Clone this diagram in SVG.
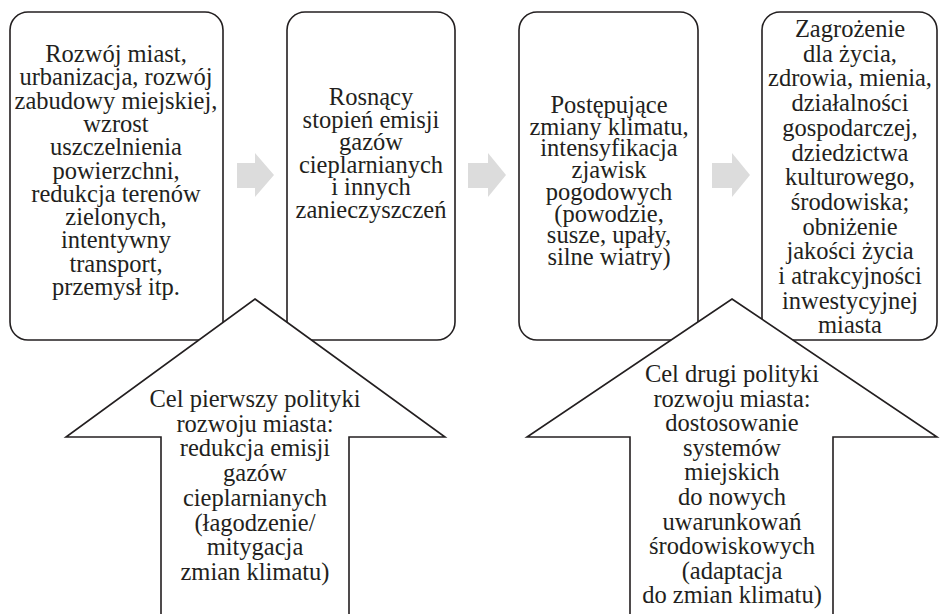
<svg xmlns="http://www.w3.org/2000/svg" width="940" height="614" viewBox="0 0 940 614">
<style>
.box{fill:#fff;stroke:#231f20;stroke-width:1.6}
.up{fill:#fff;stroke:#231f20;stroke-width:1.6;stroke-linejoin:miter}
.conn{fill:#dcdcdc;stroke:none}
text{font-family:"Liberation Serif","Times New Roman",serif;font-size:24.5px;fill:#231f20;text-anchor:middle}
</style>
<rect width="940" height="614" fill="#fff"/>
<g id="box1">
<rect class="box" x="10" y="12" width="213" height="328" rx="18"/>
<text x="116" y="62">Rozwój miast,</text>
<text x="116" y="85.3">urbanizacja, rozwój</text>
<text x="116" y="108.6">zabudowy miejskiej,</text>
<text x="116" y="131.9">wzrost</text>
<text x="116" y="155.2">uszczelnienia</text>
<text x="116" y="178.5">powierzchni,</text>
<text x="116" y="201.8">redukcja terenów</text>
<text x="116" y="225.1">zielonych,</text>
<text x="116" y="248.4">intentywny</text>
<text x="116" y="271.7">transport,</text>
<text x="116" y="295">przemysł itp.</text>
</g>
<g id="box2">
<rect class="box" x="287" y="12" width="168" height="328" rx="18"/>
<text x="371" y="105">Rosnący</text>
<text x="371" y="127.6">stopień emisji</text>
<text x="371" y="150.2">gazów</text>
<text x="371" y="172.8">cieplarnianych</text>
<text x="371" y="195.4">i innych</text>
<text x="371" y="218">zanieczyszczeń</text>
</g>
<g id="box3">
<rect class="box" x="519" y="12" width="179" height="328" rx="18"/>
<text x="609" y="113">Postępujące</text>
<text x="609" y="134.7">zmiany klimatu,</text>
<text x="609" y="156.4">intensyfikacja</text>
<text x="609" y="178.1">zjawisk</text>
<text x="609" y="199.8">pogodowych</text>
<text x="609" y="221.5">(powodzie,</text>
<text x="609" y="243.2">susze, upały,</text>
<text x="609" y="265">silne wiatry)</text>
</g>
<g id="box4">
<rect class="box" x="762" y="12" width="175" height="328" rx="18"/>
<text x="850" y="37">Zagrożenie</text>
<text x="850" y="61.7">dla życia,</text>
<text x="850" y="86.4">zdrowia, mienia,</text>
<text x="850" y="111.1">działalności</text>
<text x="850" y="135.8">gospodarczej,</text>
<text x="850" y="160.5">dziedzictwa</text>
<text x="850" y="185.2">kulturowego,</text>
<text x="850" y="209.9">środowiska;</text>
<text x="850" y="234.6">obniżenie</text>
<text x="850" y="259.3">jakości życia</text>
<text x="850" y="284">i atrakcyjności</text>
<text x="850" y="308.7">inwestycyjnej</text>
<text x="850" y="333.4">miasta</text>
</g>
<g id="connectors">
<polygon class="conn" points="237,163 255,163 255,153 274,175 255,197 255,188 237,188"/>
<polygon class="conn" points="468,163 488,163 488,153 506,175 488,197 488,188 468,188"/>
<polygon class="conn" points="712,163 732,163 732,153 750,175 732,197 732,188 712,188"/>
</g>
<g id="goal1">
<polygon class="up" points="255,299 445,437 349,437 349,620 161,620 161,437 66,437"/>
<text x="255" y="407">Cel pierwszy polityki</text>
<text x="255" y="431.7">rozwoju miasta:</text>
<text x="255" y="456.4">redukcja emisji</text>
<text x="255" y="481.1">gazów</text>
<text x="255" y="505.8">cieplarnianych</text>
<text x="255" y="530.5">(łagodzenie/</text>
<text x="255" y="555.2">mitygacja</text>
<text x="255" y="580">zmian klimatu)</text>
</g>
<g id="goal2">
<polygon class="up" points="732,299 937,437 833,437 833,620 630,620 630,437 527,437"/>
<text x="732" y="382">Cel drugi polityki</text>
<text x="732" y="406.6">rozwoju miasta:</text>
<text x="732" y="431.2">dostosowanie</text>
<text x="732" y="455.8">systemów</text>
<text x="732" y="480.4">miejskich</text>
<text x="732" y="505">do nowych</text>
<text x="732" y="529.6">uwarunkowań</text>
<text x="732" y="554.2">środowiskowych</text>
<text x="732" y="578.8">(adaptacja</text>
<text x="732" y="603.4">do zmian klimatu)</text>
</g>
</svg>
